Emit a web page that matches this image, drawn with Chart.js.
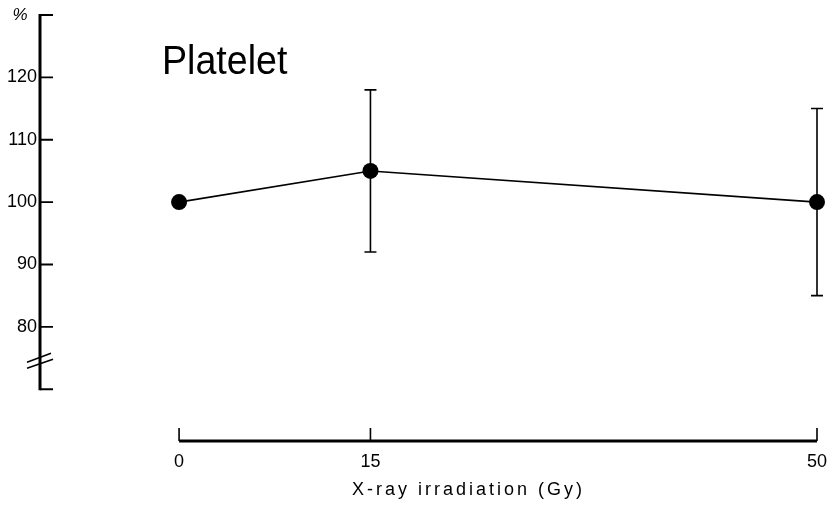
<!DOCTYPE html>
<html>
<head>
<meta charset="utf-8">
<script src="https://cdn.jsdelivr.net/npm/chart.js@4"></script>
<style>
  html, body { margin: 0; padding: 0; background: #fff; }
  #plateletChart { display: block; background: #fff; }
</style>
</head>
<body>
<canvas id="plateletChart" width="828" height="506"></canvas>
<script>
// Platelet count after X-ray irradiation, % of control
const doses = [0, 15, 50];
const platelet = [100, 105, 100];
const errLow = [null, 92, 85];
const errHigh = [null, 118, 115];
const xTicks = [0, 15, 50];
const yTicks = [80, 90, 100, 110, 120, 130];
const yAxisBottom = 70;
const yBreak = 74.5;

const FONT = "'Liberation Sans Narrow', 'Liberation Sans', Arial, sans-serif";
const INK = '#000';

// axis lines, error bars and captions, all placed through the chart scales
const drawExtras = {
  id: 'drawExtras',
  beforeDatasetsDraw(chart) {
    const { ctx, scales: { x, y } } = chart;
    ctx.save();
    ctx.strokeStyle = INK;
    ctx.lineWidth = 1.6;
    doses.forEach((d, i) => {
      if (errLow[i] == null) return;
      const px = x.getPixelForValue(d);
      const top = y.getPixelForValue(errHigh[i]);
      const bot = y.getPixelForValue(errLow[i]);
      ctx.beginPath();
      ctx.moveTo(px, top); ctx.lineTo(px, bot);
      ctx.moveTo(px - 6, top); ctx.lineTo(px + 6, top);
      ctx.moveTo(px - 6, bot); ctx.lineTo(px + 6, bot);
      ctx.stroke();
    });
    ctx.restore();
  },
  afterDraw(chart) {
    const { ctx, chartArea, scales: { x, y } } = chart;
    ctx.save();
    ctx.strokeStyle = INK;
    ctx.fillStyle = INK;

    // y axis with break
    const ax = chartArea.left;
    const yTop = y.getPixelForValue(yTicks[yTicks.length - 1]);
    const yBot = y.getPixelForValue(yAxisBottom);
    ctx.lineWidth = 3;
    ctx.beginPath();
    ctx.moveTo(ax, yTop - 1); ctx.lineTo(ax, yBot + 1);
    ctx.stroke();
    ctx.lineWidth = 1.8;
    ctx.beginPath();
    yTicks.concat([yAxisBottom]).forEach(v => {
      const py = y.getPixelForValue(v);
      ctx.moveTo(ax, py); ctx.lineTo(ax + 13, py);
    });
    ctx.stroke();
    const by = y.getPixelForValue(yBreak);
    ctx.lineWidth = 1.6;
    ctx.beginPath();
    ctx.moveTo(ax - 13, by + 1); ctx.lineTo(ax + 11, by - 8);
    ctx.moveTo(ax - 13, by + 7); ctx.lineTo(ax + 13, by - 2);
    ctx.stroke();

    // x axis, drawn only over the dose range
    const xa = chartArea.bottom;
    ctx.lineWidth = 3;
    ctx.beginPath();
    ctx.moveTo(x.getPixelForValue(xTicks[0]), xa);
    ctx.lineTo(x.getPixelForValue(xTicks[xTicks.length - 1]), xa);
    ctx.stroke();
    ctx.lineWidth = 1.6;
    ctx.beginPath();
    xTicks.forEach(v => {
      const px = x.getPixelForValue(v);
      ctx.moveTo(px, xa); ctx.lineTo(px, xa - 13);
    });
    ctx.stroke();

    // captions
    ctx.textBaseline = 'alphabetic';
    ctx.textAlign = 'left';
    ctx.save();
    ctx.translate(162, 74);
    ctx.scale(0.94, 1);
    ctx.font = '40px ' + FONT;
    ctx.fillText('Platelet', 0, 0);
    ctx.restore();

    ctx.font = "18px 'Liberation Sans', Arial, sans-serif";
    ctx.letterSpacing = '3px';
    ctx.fillText('X-ray irradiation (Gy)', 352, 495);
    ctx.restore();
  }
};

new Chart(document.getElementById('plateletChart'), {
  type: 'line',
  data: {
    datasets: [{
      data: doses.map((d, i) => ({ x: d, y: platelet[i] })),
      borderColor: INK,
      borderWidth: 1.6,
      pointRadius: 8,
      pointBackgroundColor: INK,
      pointBorderWidth: 0,
      tension: 0,
      clip: false
    }]
  },
  options: {
    responsive: false,
    animation: false,
    devicePixelRatio: 1,
    layout: { padding: { top: 15, right: 11, left: 0, bottom: 0 } },
    plugins: {
      legend: { display: false },
      tooltip: { enabled: false }
    },
    scales: {
      x: {
        type: 'linear',
        min: -10.9,
        max: 50,
        grid: { display: false, drawTicks: false },
        border: { display: false },
        afterBuildTicks: s => { s.ticks = xTicks.map(v => ({ value: v })); },
        afterFit: s => {
          s.height = 65;
          s.paddingLeft = 0;
          s.paddingRight = 0;
        },
        ticks: {
          padding: 10,
          maxRotation: 0,
          autoSkip: false,
          color: INK,
          font: { family: FONT, size: 18 }
        }
      },
      y: {
        min: 61.7,
        max: 130,
        grid: { display: false, drawTicks: false },
        border: { display: false },
        afterBuildTicks: s => { s.ticks = yTicks.map(v => ({ value: v })); },
        afterFit: s => { s.width = 40; },
        ticks: {
          padding: 3,
          autoSkip: false,
          color: INK,
          callback: v => v === 130 ? '%  ' : v,
          font: ctx => ctx.tick && ctx.tick.value === 130
            ? { family: FONT, size: 17, style: 'italic' }
            : { family: FONT, size: 18 }
        }
      }
    }
  },
  plugins: [drawExtras]
});
</script>
</body>
</html>
